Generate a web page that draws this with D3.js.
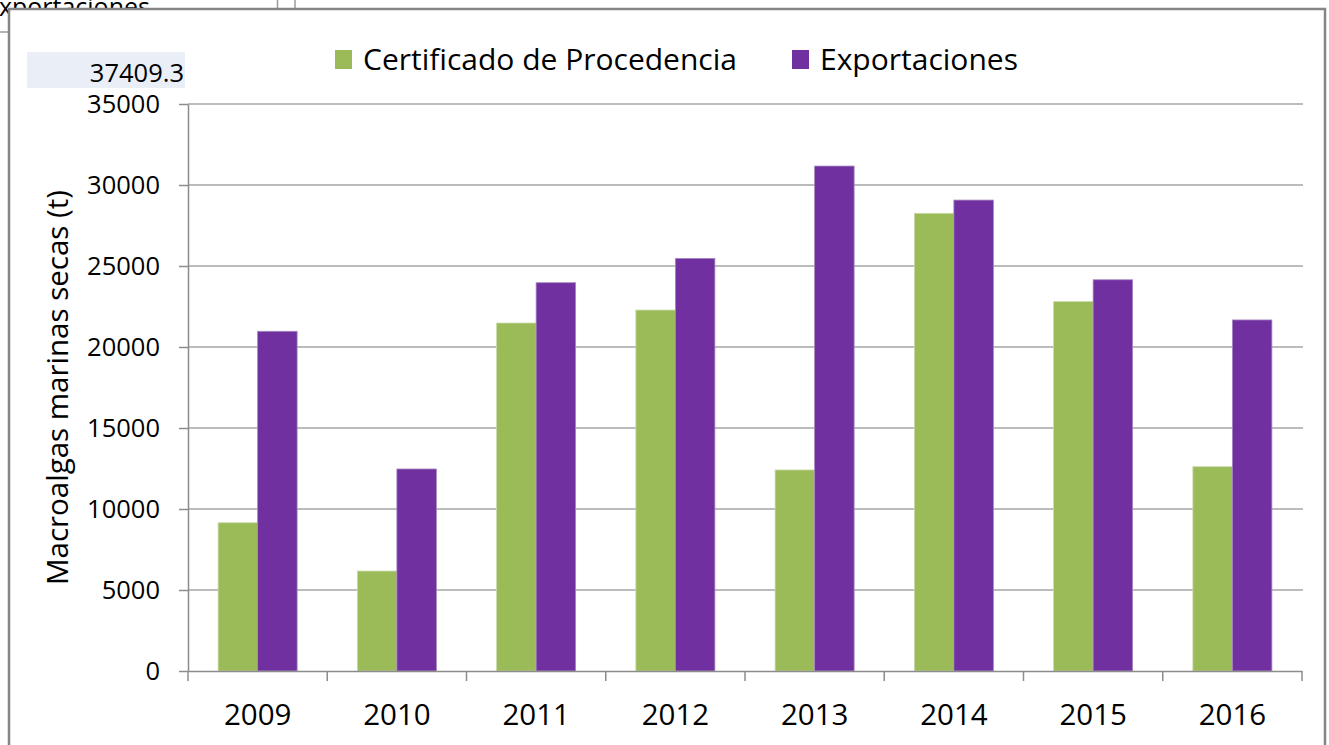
<!DOCTYPE html>
<html>
<head>
<meta charset="utf-8">
<script src="https://cdn.jsdelivr.net/npm/d3@7"></script>
<style>
  html, body { margin: 0; padding: 0; background: #fff; }
  svg { display: block; font-family: "Open Sans", "Noto Sans", sans-serif; }
</style>
</head>
<body>
<svg id="chart" width="1329" height="745"></svg>
<script>
const years = ["2009", "2010", "2011", "2012", "2013", "2014", "2015", "2016"];
const seriesNames = ["Certificado de Procedencia", "Exportaciones"];
const certificado = [9150, 6170, 21480, 22280, 12410, 28250, 22800, 12610];
const exportaciones = [20970, 12470, 23970, 25470, 31170, 29070, 24150, 21670];
const seriesColors = ["#9bbb59", "#7030a0"];
const yTicks = [0, 5000, 10000, 15000, 20000, 25000, 30000, 35000];
const yTitle = "Macroalgas marinas secas (t)";
const cellValue = "37409.3";
const cellAbove = "Exportaciones";

const svg = d3.select("#chart");

// spreadsheet remnants behind the chart
svg.append("text").attr("x", -15).attr("y", 16)
  .attr("font-size", 25).attr("fill", "#000").text(cellAbove);
svg.append("line").attr("x1", 0).attr("x2", 10).attr("y1", 32).attr("y2", 32)
  .attr("stroke", "#9a9a9a").attr("stroke-width", 1.5);
[277.5, 295].forEach(x => svg.append("line").attr("x1", x).attr("x2", x)
  .attr("y1", 0).attr("y2", 10).attr("stroke", "#9a9a9a").attr("stroke-width", 1.5));

// chart frame
svg.append("rect").attr("x", 9).attr("y", 9).attr("width", 1316).attr("height", 760)
  .attr("fill", "#fff").attr("stroke", "#858585").attr("stroke-width", 2.5);

// selected cell overlay
svg.append("rect").attr("x", 27).attr("y", 52).attr("width", 158).attr("height", 36)
  .attr("fill", "#e9eef7");
svg.append("text").attr("x", 184).attr("y", 82).attr("text-anchor", "end")
  .attr("font-size", 25.5).attr("fill", "#000").text(cellValue);

const x0 = d3.scaleBand().domain(years).range([188, 1302]).paddingInner(0).paddingOuter(0);
const x1 = d3.scaleBand().domain(seriesNames).range([0, x0.bandwidth()]).paddingInner(0).paddingOuter(0.7625);
const y = d3.scaleLinear().domain([0, 35000]).range([671, 104]);

// gridlines
svg.append("g").selectAll("line").data(yTicks.filter(d => d > 0)).join("line")
  .attr("x1", 188).attr("x2", 1303)
  .attr("y1", d => y(d)).attr("y2", d => y(d))
  .attr("stroke", "#a6a6a6").attr("stroke-width", 1.5);

// y axis
const yAxis = svg.append("g").attr("transform", "translate(188,0)")
  .call(d3.axisLeft(y).tickValues(yTicks).tickFormat(d3.format("d")).tickSizeInner(9).tickSizeOuter(0).tickPadding(19));
yAxis.select(".domain").attr("stroke", "#8c8c8c").attr("stroke-width", 1.5);
yAxis.selectAll(".tick line").attr("stroke", "#8c8c8c").attr("stroke-width", 1.5);
yAxis.selectAll("text").attr("font-size", 25.5).attr("fill", "#000")
  .attr("font-family", "'Open Sans', sans-serif");

// bars
const data = years.map((yr, i) => ({ year: yr, values: [certificado[i], exportaciones[i]] }));
const groups = svg.append("g").selectAll("g").data(data).join("g")
  .attr("transform", d => `translate(${x0(d.year)},0)`);
groups.selectAll("rect").data(d => d.values.map((v, j) => ({ key: seriesNames[j], v, j }))).join("rect")
  .attr("x", d => x1(d.key))
  .attr("width", x1.bandwidth())
  .attr("y", d => y(d.v))
  .attr("height", d => y(0) - y(d.v))
  .attr("fill", d => seriesColors[d.j])
  .attr("stroke", d => d.j === 0 ? "#c8d9a6" : "#a787c2")
  .attr("stroke-width", 0.8);

// x axis
const xAxis = svg.append("g").attr("transform", "translate(0,671)")
  .call(d3.axisBottom(x0).tickSize(0).tickPadding(33));
xAxis.select(".domain").attr("stroke", "#8c8c8c").attr("stroke-width", 1.5);
xAxis.selectAll("text").attr("font-size", 29.5).attr("fill", "#000")
  .attr("font-family", "'Open Sans', sans-serif");
const boundaries = years.map(yr => x0(yr)).concat([x0.range()[1]]);
xAxis.append("g").selectAll("line").data(boundaries).join("line")
  .attr("x1", d => d).attr("x2", d => d).attr("y1", 0).attr("y2", 10)
  .attr("stroke", "#8c8c8c").attr("stroke-width", 1.5);

// y title
svg.append("text")
  .attr("transform", `translate(68,${(y(0) + y(35000)) / 2}) rotate(-90)`)
  .attr("text-anchor", "middle").attr("font-size", 29.5).attr("fill", "#000")
  .text(yTitle);

// legend
const legendX = [335, 792];
const leg = svg.append("g").selectAll("g").data(seriesNames).join("g")
  .attr("transform", (d, i) => `translate(${legendX[i]},0)`);
leg.append("rect").attr("x", 0).attr("y", 50).attr("width", 17).attr("height", 19)
  .attr("fill", (d, i) => seriesColors[i]);
leg.append("text").attr("x", 28).attr("y", 70).attr("font-size", 30).attr("fill", "#000")
  .text(d => d);
</script>
</body>
</html>
